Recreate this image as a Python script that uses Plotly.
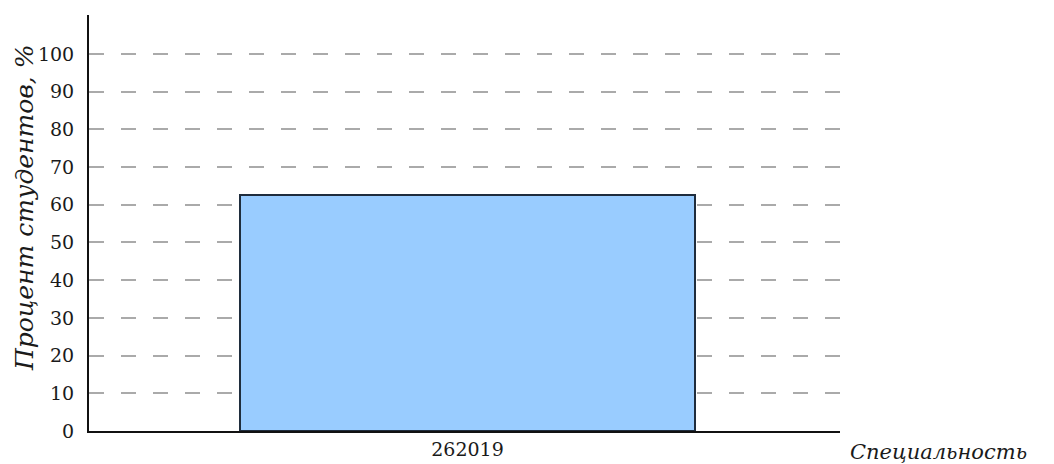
import plotly.graph_objects as go

categories = ["262019"]
values = [62.7]
y_ticks = [0, 10, 20, 30, 40, 50, 60, 70, 80, 90, 100]

fig = go.Figure()
fig.add_trace(go.Bar(
    x=categories, y=values, width=0.606,
    marker=dict(color="#99ccff", line=dict(color="#1f2d3d", width=2)),
))

fig.update_layout(
    width=1054, height=464,
    margin=dict(l=89, r=214, t=15, b=33, autoexpand=False),
    paper_bgcolor="white", plot_bgcolor="white",
    showlegend=False,
    font=dict(family="DejaVu Serif", color="#1a1a1a"),
    bargap=0,
)
fig.update_xaxes(
    range=[-0.504, 0.496], showline=True, linecolor="#111", linewidth=2,
    showgrid=False, ticks="", tickfont=dict(size=19), automargin=False,
)
fig.update_yaxes(
    range=[0, 110.3], tickvals=y_ticks, showline=True, linecolor="#111", linewidth=2,
    showgrid=True, gridcolor="#aaaaaa", gridwidth=1.5, griddash="15px,17px",
    zeroline=False, ticks="", tickfont=dict(size=19), ticklabelstandoff=9,
    automargin=False,
)
fig.add_annotation(
    text="<i>Процент студентов, %</i>", xref="paper", yref="paper", x=0, y=0.5,
    xanchor="center", yanchor="middle", xshift=-65, yshift=15, textangle=-90,
    showarrow=False, font=dict(size=25, family="DejaVu Serif", color="#1a1a1a"),
)
fig.add_annotation(
    text="<i>Специальность</i>", xref="paper", yref="paper", x=1.0, y=0,
    xanchor="left", yanchor="middle", xshift=8, yshift=-21, showarrow=False,
    font=dict(size=21, family="DejaVu Serif", color="#1a1a1a"),
)
fig.write_html(
    "out.html",
    config={"displayModeBar": False},
    post_script="document.body.style.margin='0';document.body.style.overflow='hidden';",
)
